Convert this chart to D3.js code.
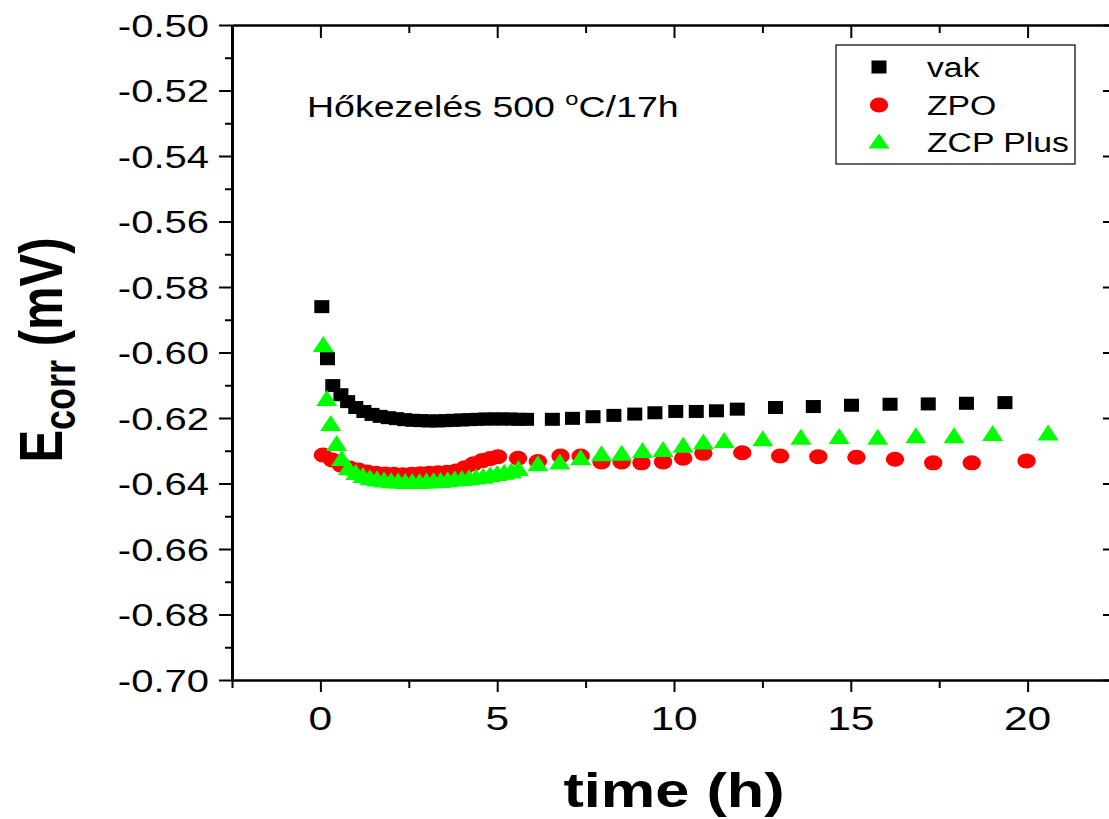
<!DOCTYPE html>
<html><head><meta charset="utf-8">
<script src="https://cdn.jsdelivr.net/npm/d3@7"></script>
<style>body{margin:0;background:#fff} svg{display:block} text{font-family:"Liberation Sans", Arial, sans-serif;fill:#000}</style>
</head><body><svg id="c" width="1109" height="819"></svg>
<script>
// ---- data (time in h, Ecorr) ----
const vakTime = [0.04,0.2,0.35,0.58,0.77,1.0,1.23,1.46,1.69,1.92,2.15,2.38,2.61,2.84,3.07,3.3,3.53,3.76,3.99,4.22,4.45,4.68,4.91,5.14,5.37,5.6,5.83,6.56,7.13,7.71,8.30,8.89,9.46,10.05,10.63,11.20,11.79,12.87,13.94,15.02,16.11,17.19,18.27,19.36];
const vakE = [-0.586,-0.6019,-0.6101,-0.6129,-0.6150,-0.6168,-0.6180,-0.6189,-0.6195,-0.6199,-0.6202,-0.6205,-0.6207,-0.6208,-0.6209,-0.6209,-0.6208,-0.6207,-0.6206,-0.6205,-0.6204,-0.6203,-0.6203,-0.6203,-0.6203,-0.6204,-0.6204,-0.6204,-0.6201,-0.6196,-0.6192,-0.6188,-0.6184,-0.6180,-0.6180,-0.6178,-0.6173,-0.6168,-0.6165,-0.6161,-0.6158,-0.6157,-0.6155,-0.6153];

const zpoTime = [0.07,0.33,0.58,0.83,1.08,1.33,1.58,1.83,2.08,2.33,2.58,2.83,3.08,3.33,3.58,3.83,4.08,4.33,4.58,4.80,5.02,5.59,6.15,6.79,7.36,7.95,8.52,9.08,9.69,10.26,10.83,11.93,13.0,14.08,15.16,16.25,17.33,18.42,19.97];
const zpoE = [-0.6313,-0.6328,-0.6344,-0.6353,-0.6359,-0.6365,-0.6369,-0.6371,-0.6372,-0.6373,-0.6372,-0.6370,-0.6369,-0.6367,-0.6366,-0.6362,-0.6352,-0.6340,-0.6330,-0.6324,-0.6318,-0.6323,-0.6333,-0.6316,-0.6316,-0.6334,-0.6334,-0.6337,-0.6334,-0.6323,-0.6308,-0.6306,-0.6316,-0.6318,-0.6320,-0.6326,-0.6337,-0.6337,-0.6331];

const zcpTime = [0.08,0.18,0.29,0.46,0.6,0.79,1.0,1.2,1.4,1.6,1.8,2.0,2.2,2.4,2.6,2.8,3.0,3.2,3.4,3.6,3.8,4.0,4.2,4.4,4.6,4.8,5.0,5.2,5.4,5.6,6.15,6.77,7.36,7.95,8.52,9.11,9.69,10.26,10.83,11.42,12.51,13.59,14.67,15.76,16.84,17.92,19.01,20.58];
const zcpE = [-0.5974,-0.6139,-0.6215,-0.6276,-0.6322,-0.6350,-0.6365,-0.6374,-0.6381,-0.6385,-0.6388,-0.6390,-0.6391,-0.6392,-0.6392,-0.6392,-0.6391,-0.6390,-0.6389,-0.6387,-0.6385,-0.6383,-0.6381,-0.6379,-0.6376,-0.6372,-0.6368,-0.6364,-0.6360,-0.6353,-0.6338,-0.6333,-0.6320,-0.6308,-0.6306,-0.6298,-0.6295,-0.6282,-0.6272,-0.6267,-0.6262,-0.6257,-0.6255,-0.6257,-0.6253,-0.6253,-0.6246,-0.6244];

const seriesNames = ["vak","ZPO","ZCP Plus"];
const seriesColors = ["#000000","#ff0000","#00ff00"];
const xTicks = [0,5,10,15,20];
const xMinor = [-2.5,2.5,7.5,12.5,17.5,22.5];
const yTicks = [-0.50,-0.52,-0.54,-0.56,-0.58,-0.60,-0.62,-0.64,-0.66,-0.68,-0.70];
const yMinor = [-0.51,-0.53,-0.55,-0.57,-0.59,-0.61,-0.63,-0.65,-0.67,-0.69];

// ---- layout ----
const SX = 1.25; // horizontal stretch of glyphs
const svg = d3.select("#c");
const x = d3.scaleLinear().domain([-2.5,22.5]).range([232,1116]);
const y = d3.scaleLinear().domain([-0.70,-0.50]).range([680,25]);

function axisStyle(g, w){
  g.select(".domain").attr("stroke","#000").attr("stroke-width",w);
  g.selectAll(".tick line").attr("stroke","#000").attr("stroke-width",2);
}
// left
svg.append("g").attr("transform","translate(232,0)")
  .call(d3.axisLeft(y).tickValues(yTicks).tickSize(13).tickSizeOuter(0).tickFormat(""))
  .call(g=>axisStyle(g,3));
svg.append("g").attr("transform","translate(232,0)")
  .call(d3.axisLeft(y).tickValues(yMinor).tickSize(7).tickSizeOuter(0).tickFormat(""))
  .call(g=>{g.select(".domain").remove(); axisStyle(g,3);});
// right (inward)
svg.append("g").attr("transform","translate(1116,0)")
  .call(d3.axisLeft(y).tickValues(yTicks).tickSize(13).tickSizeOuter(0).tickFormat(""))
  .call(g=>axisStyle(g,3));
svg.append("g").attr("transform","translate(1116,0)")
  .call(d3.axisLeft(y).tickValues(yMinor).tickSize(7).tickSizeOuter(0).tickFormat(""))
  .call(g=>{g.select(".domain").remove(); axisStyle(g,3);});
// bottom
svg.append("g").attr("transform","translate(0,680)")
  .call(d3.axisBottom(x).tickValues(xTicks).tickSize(12).tickSizeOuter(0).tickFormat(""))
  .call(g=>axisStyle(g,2.5));
svg.append("g").attr("transform","translate(0,680)")
  .call(d3.axisBottom(x).tickValues(xMinor).tickSize(8).tickSizeOuter(0).tickFormat(""))
  .call(g=>{g.select(".domain").remove(); axisStyle(g,2.5);});
// top (inward)
svg.append("g").attr("transform","translate(0,25)")
  .call(d3.axisBottom(x).tickValues(xTicks).tickSize(13).tickSizeOuter(0).tickFormat(""))
  .call(g=>axisStyle(g,2.5));
svg.append("g").attr("transform","translate(0,25)")
  .call(d3.axisBottom(x).tickValues(xMinor).tickSize(8).tickSizeOuter(0).tickFormat(""))
  .call(g=>{g.select(".domain").remove(); axisStyle(g,2.5);});

function stext(px, py, str, size, anchor, weight){
  return svg.append("text")
    .attr("transform",`translate(${px},${py}) scale(${SX},1)`)
    .attr("text-anchor",anchor||"start")
    .attr("font-size",size)
    .attr("font-weight",weight||"normal")
    .text(str);
}
// tick labels
yTicks.forEach(v=>stext(209, y(v)+11.5, v.toFixed(2), 32, "end"));
xTicks.forEach(v=>stext(x(v), 730, String(v), 34, "middle"));

// axis titles
stext(674, 807, "time (h)", 49, "middle", "bold");
const yt = svg.append("text")
  .attr("transform",`translate(62,350) scale(${SX},1) rotate(-90)`)
  .attr("text-anchor","middle").attr("font-size",49).attr("font-weight","bold");
yt.append("tspan").text("E");
yt.append("tspan").attr("font-size",36).attr("dy",10).text("corr");
yt.append("tspan").attr("dy",-10).text(" (mV)");

// annotation
const an = svg.append("text")
  .attr("transform",`translate(307,117) scale(${SX},1)`).attr("font-size",30);
an.append("tspan").text("Hőkezelés 500 ");
an.append("tspan").attr("font-size",19).attr("dy",-12).text("o");
an.append("tspan").attr("dy",12).text("C/17h");

// markers
function sq(g, px, py, c){ g.append("rect").attr("x",px-7.5).attr("y",py-6.5).attr("width",15).attr("height",13).attr("fill",c); }
function ci(g, px, py, c){ g.append("ellipse").attr("cx",px).attr("cy",py).attr("rx",9.2).attr("ry",7.5).attr("fill",c); }
function tri(g, px, py, c, w, h){ w=w||21; h=h||16; g.append("path").attr("d",`M${px},${py-h/2}L${px+w/2},${py+h/2}L${px-w/2},${py+h/2}Z`).attr("fill",c); }

const gD = svg.append("g");
vakTime.forEach((t,i)=>sq(gD, x(t), y(vakE[i]), seriesColors[0]));
zpoTime.forEach((t,i)=>ci(gD, x(t), y(zpoE[i]), seriesColors[1]));
zcpTime.forEach((t,i)=>tri(gD, x(t), y(zcpE[i]), seriesColors[2]));

// legend
const lg = svg.append("g");
lg.append("rect").attr("x",836).attr("y",45).attr("width",239).attr("height",119)
  .attr("fill","#fff").attr("stroke","#000").attr("stroke-width",1.2);
const rows = [67,105,142];
sq(lg, 879, rows[0], seriesColors[0]);
ci(lg, 879, rows[1], seriesColors[1]);
tri(lg, 879, rows[2]-1, seriesColors[2], 21, 15);
seriesNames.forEach((n,i)=>stext(927, rows[i]+10, n, 27, "start"));
</script></body></html>
